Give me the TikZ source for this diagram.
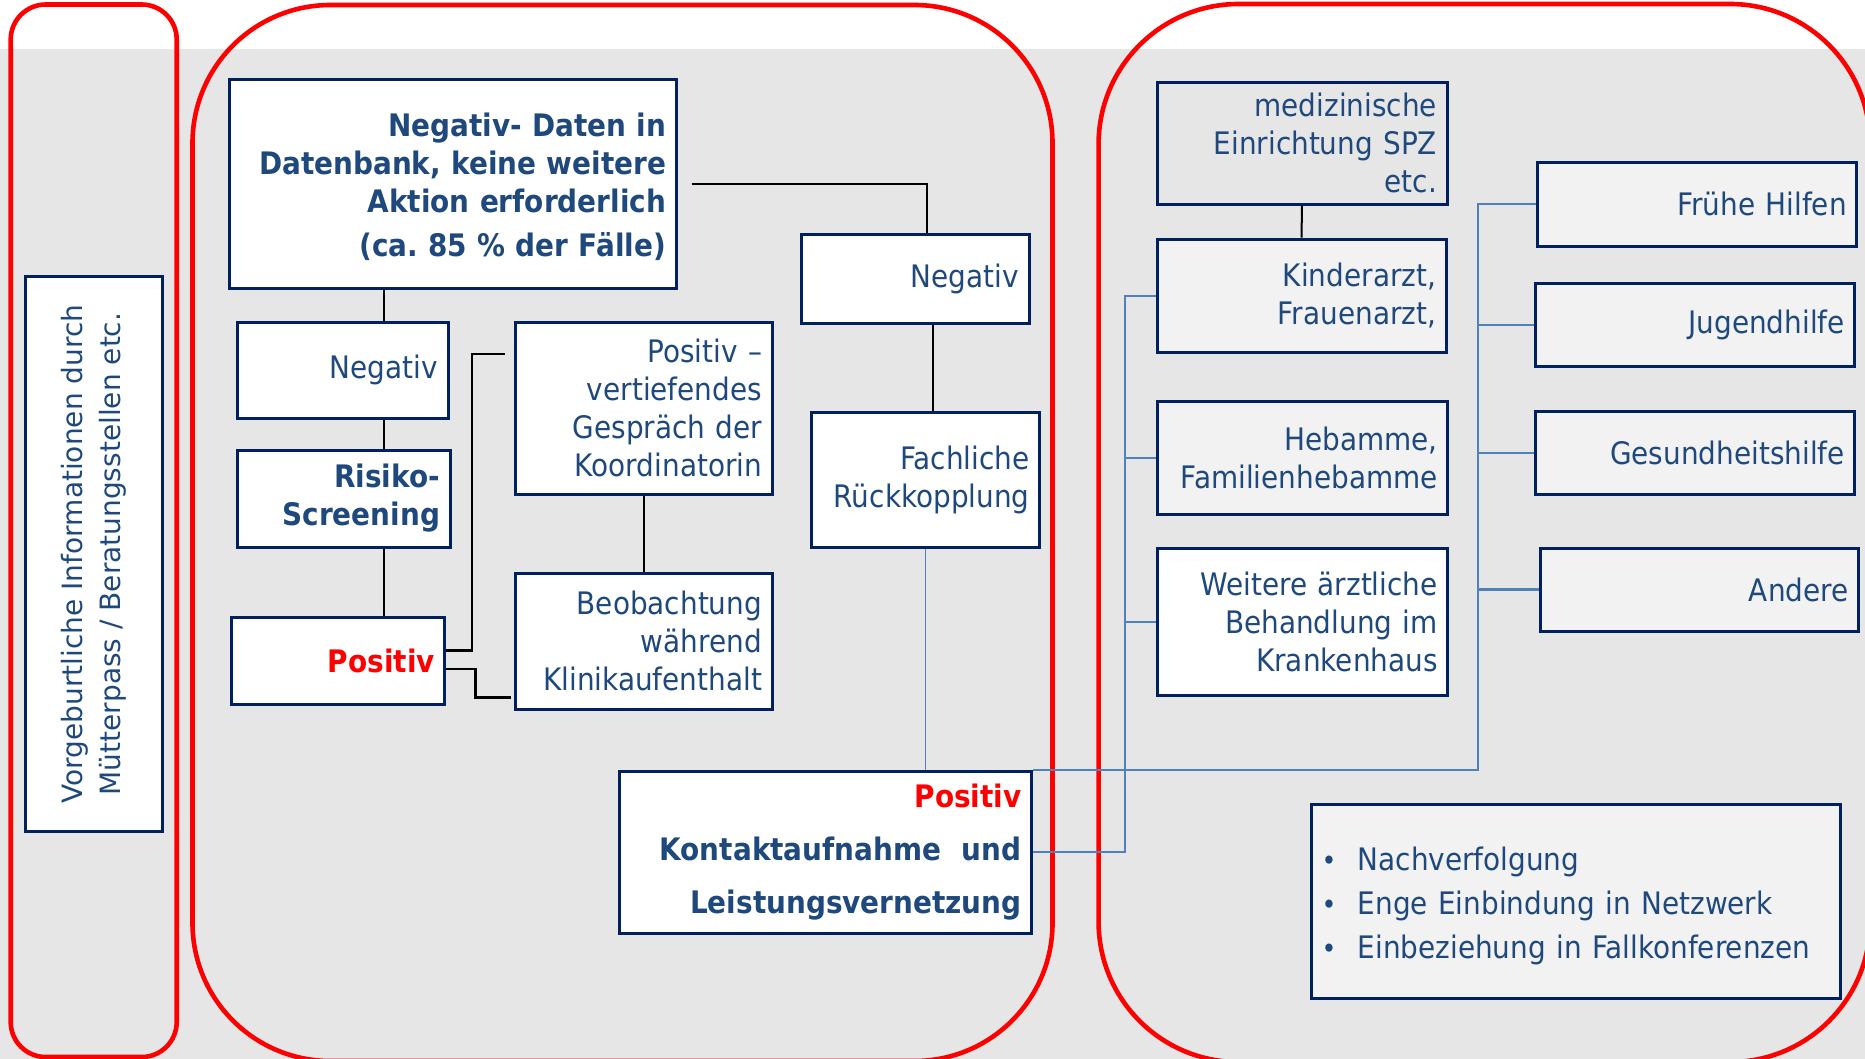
\documentclass[tikz,border=0pt]{standalone}
\usepackage{fontspec}
\setmainfont{DejaVu Sans}[FakeStretch=0.9]
\newfontfamily\vfont{DejaVu Sans}
\definecolor{boxline}{RGB}{0,32,96}
\definecolor{txt}{RGB}{31,73,125}
\definecolor{bggray}{RGB}{230,230,230}
\definecolor{lightfill}{RGB}{242,242,242}
\definecolor{cblue}{RGB}{79,129,189}
\definecolor{pred}{RGB}{255,0,0}
\frenchspacing
\begin{document}
\begin{tikzpicture}[x=1pt,y=-1pt,
  box/.style={draw=boxline, line width=3pt, fill=white, inner xsep=10pt, inner ysep=0pt,
              text=txt, align=right, font=\fontsize{31}{38}\selectfont},
  gbox/.style={box, fill=lightfill},
  conn/.style={draw=black, line width=2pt},
  bconn/.style={draw=cblue, line width=2.2pt},
  redframe/.style={draw=pred, line width=4.6pt}]
\useasboundingbox (0,0) rectangle (1865,1059);
\fill[white] (0,0) rectangle (1865,1059);
\fill[bggray] (0,49) rectangle (1865,1059);

% red frames
\draw[redframe, rounded corners=35pt] (10.7,4.5) rectangle (176.7,1057);
\draw[redframe, rounded corners=138pt] (192.5,5) rectangle (1052.5,1061);
\draw[redframe, rounded corners=140pt] (1098.6,4) rectangle (1870,1062);

% helper coordinates
\coordinate (cL) at (383.5,0);
\coordinate (cN) at (927,0);
\coordinate (cF) at (933,0);
\coordinate (bR) at (1477.8,0);
\coordinate (bL) at (1125,0);

% boxes
\node[box, rotate=90, align=center, minimum width=554pt, minimum height=136.6pt,
      font=\vfont\fontsize{28}{38}\selectfont] (vorg) at (93.7,554)
  {Vorgeburtliche Informationen durch\\Mütterpass / Beratungsstellen etc.};

\node[box, minimum width=447pt, minimum height=208pt, text width=427pt, font=\fontsize{31}{38}\selectfont\bfseries] (top) at (452.5,184)
  {\rule{0pt}{30pt}Negativ- Daten in\\Datenbank, keine weitere\\Aktion erforderlich\\[6pt](ca. 85 \% der Fälle)};
\node[box, minimum width=211pt, minimum height=96pt, text width=191pt] (neg1) at (342.5,370) {Negativ};
\node[box, minimum width=213pt, minimum height=97pt, text width=193pt, font=\fontsize{31}{38}\selectfont\bfseries] (risk) at (343.5,498.5) {Risiko-\\Screening};
\node[box, minimum width=213.5pt, minimum height=87pt, text width=193.5pt, text=pred, font=\fontsize{31}{38}\selectfont\bfseries] (pos1) at (338,660.5) {Positiv};
\node[box, minimum width=256.4pt, minimum height=172pt, text width=236.4pt] (vert) at (643.8,408)
  {Positiv –\\vertiefendes\\Gespräch der\\Koordinatorin};
\node[box, minimum width=256.4pt, minimum height=136pt, text width=236.4pt] (beob) at (643.8,641)
  {Beobachtung\\während\\Klinikaufenthalt};
\node[box, minimum width=228pt, minimum height=88pt, text width=208pt] (neg2) at (915,279) {Negativ};
\node[box, minimum width=228pt, minimum height=135pt, text width=208pt] (fach) at (925.6,479.5) {Fachliche\\Rückkopplung};
\node[box, minimum width=412.6pt, minimum height=161.4pt, text width=392.6pt, font=\fontsize{31}{38}\selectfont\bfseries] (pos2) at (825.3,852.3)
  {\textcolor{pred}{Positiv}\\[15pt]Kontaktaufnahme\ \ und\\[15pt]Leistungsvernetzung};

\node[box, fill=bggray, minimum width=290pt, minimum height=121.3pt, text width=270pt] (med) at (1302,143.4)
  {medizinische\\Einrichtung SPZ\\etc.};
\node[gbox, minimum width=289pt, minimum height=113.7pt, text width=269pt] (kind) at (1301.5,296)
  {Kinderarzt,\\Frauenarzt,};
\node[gbox, minimum width=290.4pt, minimum height=113.3pt, text width=270.4pt] (heb) at (1302.5,457.7)
  {Hebamme,\\Familienhebamme};
\node[box, minimum width=290.4pt, minimum height=146.7pt, text width=270.4pt] (weit) at (1302.5,621.7)
  {Weitere ärztliche\\Behandlung im\\Krankenhaus};
\node[gbox, minimum width=319pt, minimum height=83.7pt, text width=299pt] (fruh) at (1697.2,204.2) {Frühe Hilfen};
\node[gbox, minimum width=319pt, minimum height=83.7pt, text width=299pt] (jug) at (1695.2,324.9) {Jugendhilfe};
\node[gbox, minimum width=319pt, minimum height=82.3pt, text width=299pt] (ges) at (1695.2,452.9) {Gesundheitshilfe};
\node[gbox, minimum width=318.6pt, minimum height=83pt, text width=298.6pt] (and) at (1699.3,589.5) {Andere};
\node[gbox, align=left, minimum width=529pt, minimum height=194pt, text width=509pt] (bull) at (1576.2,901)
  {\rule{0pt}{34pt}\makebox[36pt][l]{\fontsize{28}{38}\selectfont\textbullet}Nachverfolgung\\[6pt]
   \makebox[36pt][l]{\fontsize{28}{38}\selectfont\textbullet}Enge Einbindung in Netzwerk\\[6pt]
   \makebox[36pt][l]{\fontsize{28}{38}\selectfont\textbullet}Einbeziehung in Fallkonferenzen};

% black connectors
\draw[conn] ([xshift=14pt]top.east) -| (neg2.north -| cN);
\draw[conn] (top.south -| cL) -- (neg1.north -| cL);
\draw[conn] (neg1.south -| cL) -- (risk.north -| cL);
\draw[conn] (risk.south -| cL) -- (pos1.north -| cL);
\draw[conn] (neg2.south -| cF) -- (fach.north -| cF);
\draw[conn] (vert.south) -- (beob.north);
\draw[conn] (med.south) -- (kind.north);
\draw[conn, line width=2.5pt] ([yshift=10pt]pos1.east) -| ([xshift=-42pt,yshift=54pt]vert.west) -- ([xshift=-9pt,yshift=54pt]vert.west);
\draw[conn, line width=2.5pt] ([yshift=-8.5pt]pos1.east) -| ([xshift=-38.6pt,yshift=-56.7pt]beob.west) -- ([xshift=-3.6pt,yshift=-56.7pt]beob.west);

% blue connectors
\draw[bconn, line width=1.5pt] (fach.south) -- (fach.south |- pos2.north);
\draw[bconn] (pos2.north east) -| (bR |- fruh.west) -- (fruh.west);
\draw[bconn] (bR |- jug.west) -- (jug.west);
\draw[bconn] (bR |- ges.west) -- (ges.west);
\draw[bconn] (bR |- and.west) -- (and.west);
\draw[bconn] (pos2.east) -| (bL |- kind.west) -- (kind.west);
\draw[bconn] (bL |- heb.west) -- (heb.west);
\draw[bconn] (bL |- weit.west) -- (weit.west);
\end{tikzpicture}
\end{document}
